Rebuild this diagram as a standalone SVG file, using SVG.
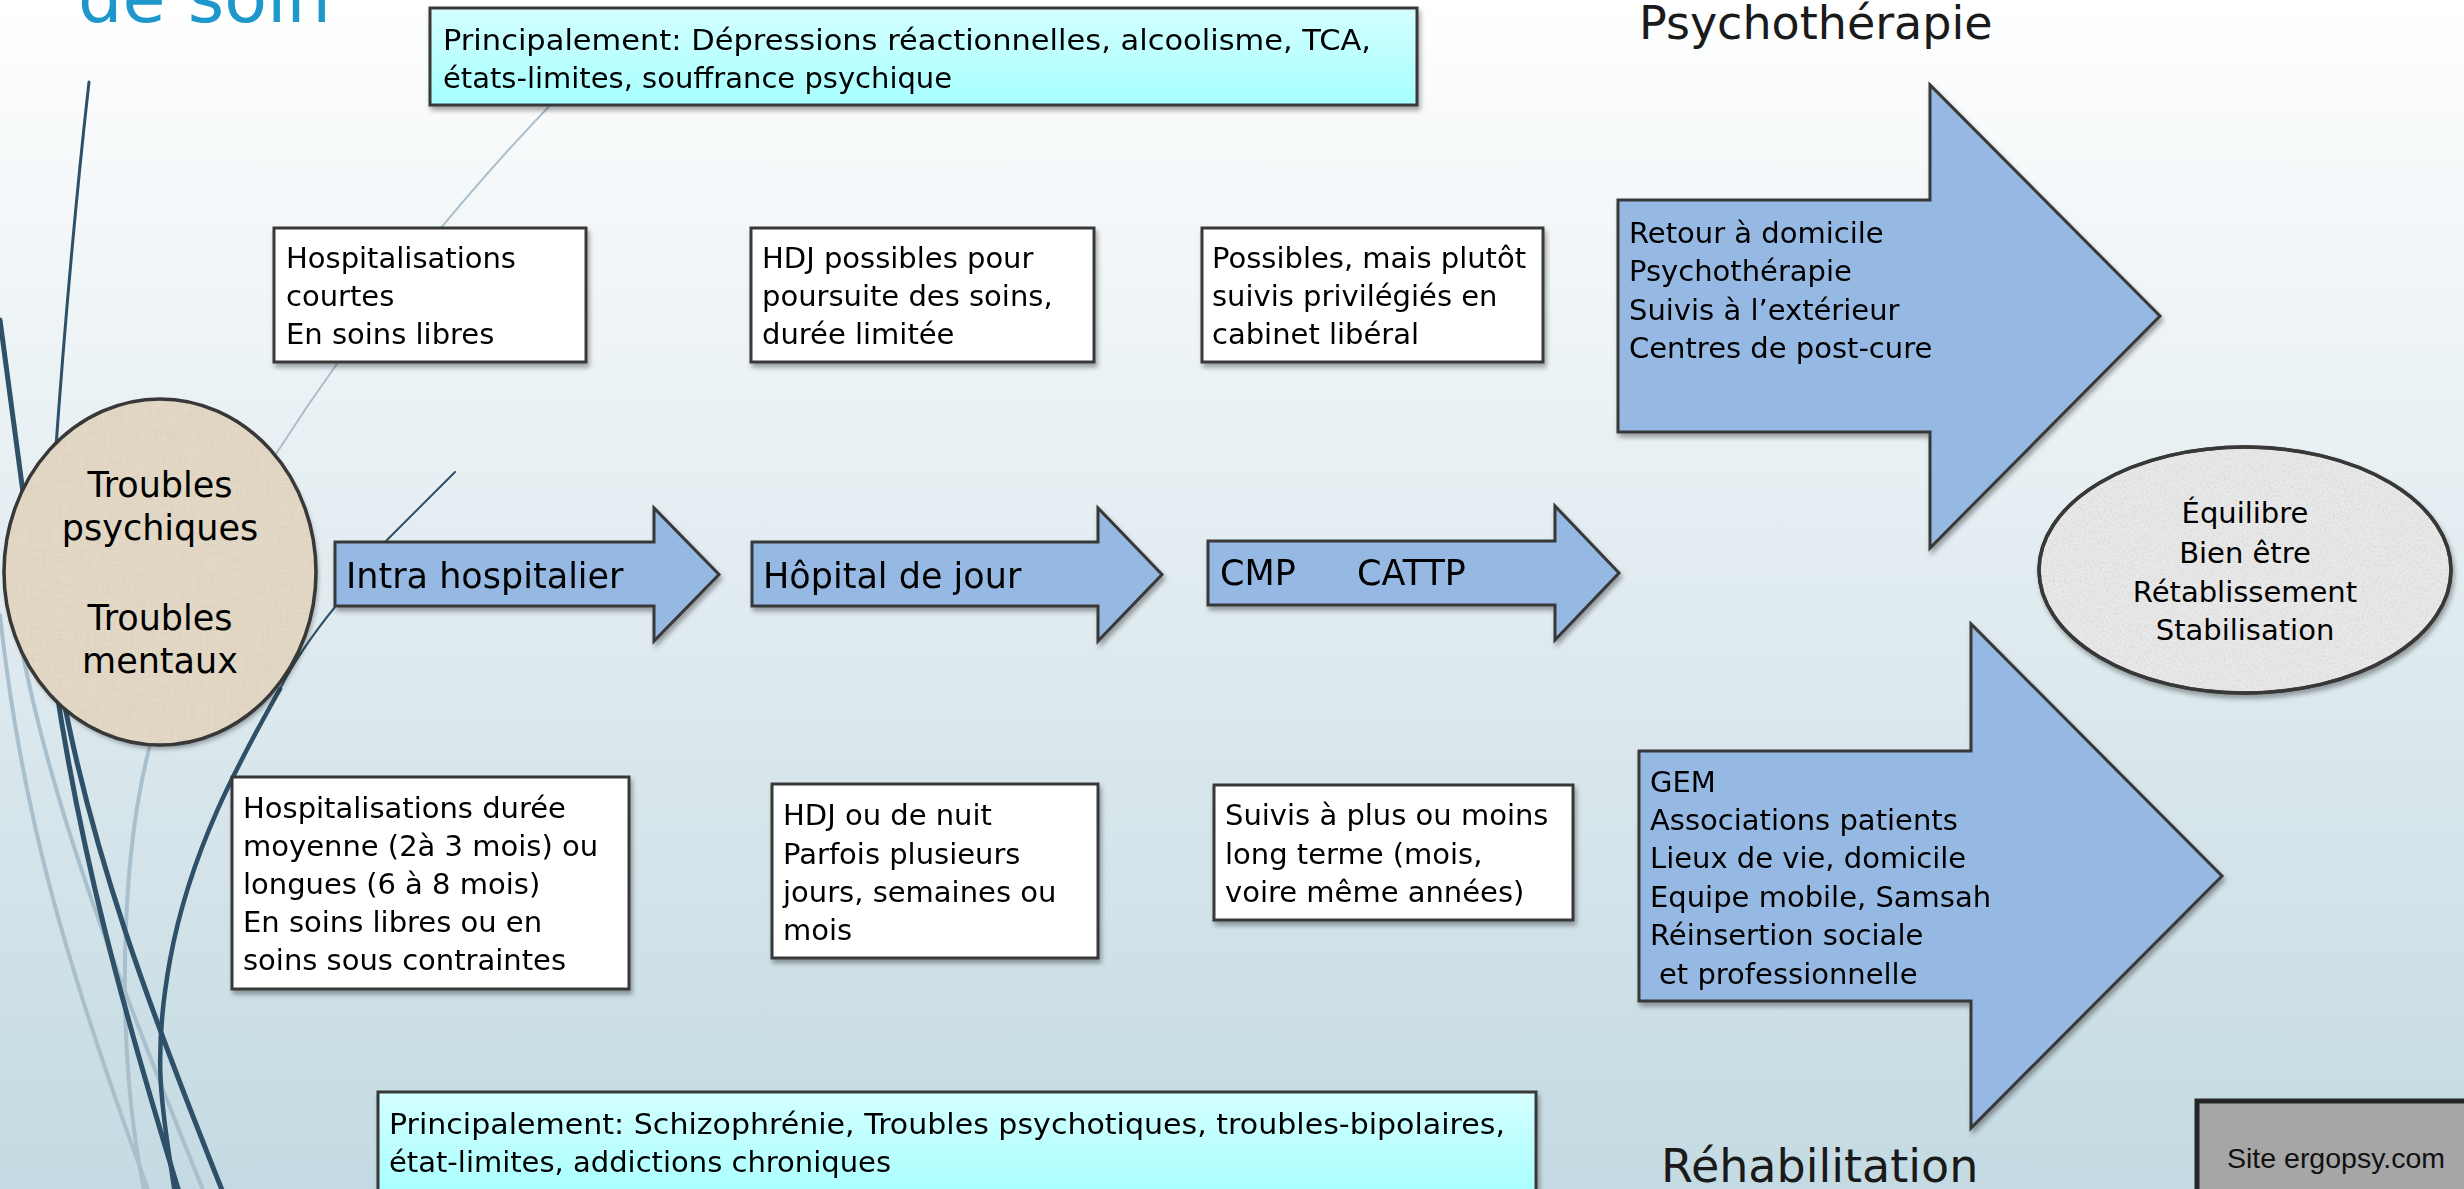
<svg xmlns="http://www.w3.org/2000/svg" width="2464" height="1189" viewBox="0 0 2464 1189">
<defs>
  <linearGradient id="bg" x1="0" y1="0" x2="0" y2="1">
    <stop offset="0" stop-color="#FFFFFF"/>
    <stop offset="0.1" stop-color="#F8FAFB"/>
    <stop offset="1" stop-color="#C4DAE2"/>
  </linearGradient>
  <linearGradient id="cyan" x1="0" y1="0" x2="0" y2="1">
    <stop offset="0" stop-color="#D4FFFF"/>
    <stop offset="1" stop-color="#A6FFFF"/>
  </linearGradient>
  <filter id="sh" x="-5%" y="-5%" width="115%" height="125%">
    <feGaussianBlur in="SourceAlpha" stdDeviation="2.5"/>
    <feOffset dx="2" dy="4" result="b"/>
    <feComponentTransfer in="b" result="c"><feFuncA type="linear" slope="0.35"/></feComponentTransfer>
    <feMerge><feMergeNode in="c"/><feMergeNode in="SourceGraphic"/></feMerge>
  </filter>
  <filter id="speck" x="0" y="0" width="100%" height="100%">
    <feTurbulence type="fractalNoise" baseFrequency="0.45" numOctaves="2" seed="7" result="n"/>
    <feColorMatrix in="n" type="matrix" values="0 0 0 0 0.55  0 0 0 0 0.55  0 0 0 0 0.55  0.8 0 0 0 -0.3" result="c"/>
    <feComposite in="c" in2="SourceGraphic" operator="in"/>
  </filter>
  <filter id="linen" x="0" y="0" width="100%" height="100%">
    <feTurbulence type="fractalNoise" baseFrequency="0.04 0.7" numOctaves="2" seed="2" result="h"/>
    <feTurbulence type="fractalNoise" baseFrequency="0.7 0.04" numOctaves="2" seed="5" result="v"/>
    <feComposite in="h" in2="v" operator="arithmetic" k2="0.5" k3="0.5" result="m"/>
    <feColorMatrix in="m" type="matrix" values="0 0 0 0 0.62  0 0 0 0 0.56  0 0 0 0 0.44  1.0 0 0 0 -0.42" result="c"/>
    <feComposite in="c" in2="SourceGraphic" operator="in"/>
  </filter>
  <style>
    .t { font-family: 'DejaVu Sans', 'Liberation Sans', sans-serif; font-size: 29px; fill: #000; }
    .al { font-size: 35px; }
    .ttl { font-size: 46px; fill: #1a1a1a; }
    .box { fill: #FFFFFF; stroke: #383838; stroke-width: 3; }
    .cy { fill: url(#cyan); stroke: #383838; stroke-width: 3; }
    .arr { fill: #95B9E2; stroke: #383838; stroke-width: 3; stroke-linejoin: miter; }
    .dk { fill: none; stroke: #2E5068; stroke-linecap: round; }
    .lt { fill: none; stroke: #A9C0CC; stroke-linecap: round; }
  </style>
</defs>

<rect x="0" y="0" width="2464" height="1189" fill="url(#bg)"/>

<text x="78" y="22" style="font-family:'DejaVu Sans','Liberation Sans',sans-serif;font-size:70px;fill:#1E98CC">de soin</text>

<g id="decor">
  <path class="lt" d="M560 95 Q400 260 272 460" stroke-width="2" stroke="#BCCED8"/>
  <path class="lt" d="M0 615 C20 800 60 950 150 1195" stroke-width="4"/>
  <path class="lt" d="M20 640 C50 800 110 960 205 1195" stroke-width="4"/>
  <path class="lt" d="M150 745 C120 860 115 1050 145 1195" stroke-width="4"/>
  <path class="dk" d="M89 82 Q70 250 55 460" stroke-width="3"/>
  <path class="dk" d="M0 320 L24 500" stroke-width="5"/>
  <path class="dk" d="M55 680 C80 850 120 1000 180 1195" stroke-width="5"/>
  <path class="dk" d="M60 680 C90 850 150 1010 224 1195" stroke-width="5"/>
  <path class="dk" d="M455 472 L387 540 L335 607 Q300 650 280 689" stroke-width="2"/>
  <path class="dk" d="M280 689 C240 760 190 850 170 960 S165 1120 175 1195" stroke-width="4.5"/>
</g>

<g id="n-troubles">
  <ellipse cx="160" cy="572" rx="156" ry="173" fill="#E2D8C5" filter="url(#sh)"/>
  <ellipse cx="160" cy="572" rx="156" ry="173" fill="#000" filter="url(#linen)"/>
  <ellipse cx="160" cy="572" rx="156" ry="173" fill="none" stroke="#383838" stroke-width="3.5"/>
  <text class="t" x="160" y="497" text-anchor="middle" style="font-size:35px">Troubles</text>
  <text class="t" x="160" y="540" text-anchor="middle" style="font-size:35px">psychiques</text>
  <text class="t" x="160" y="630" text-anchor="middle" style="font-size:35px">Troubles</text>
  <text class="t" x="160" y="673" text-anchor="middle" style="font-size:35px">mentaux</text>
</g>

<g id="n-top-cyan" filter="url(#sh)">
  <rect class="cy" x="430" y="8" width="987" height="97"/>
  <text class="t" x="443" y="50" textLength="928" lengthAdjust="spacingAndGlyphs">Principalement: Dépressions réactionnelles, alcoolisme, TCA,</text>
  <text class="t" x="443" y="88">états-limites, souffrance psychique</text>
</g>

<g id="n-hosp-courtes" filter="url(#sh)">
  <rect class="box" x="274" y="228" width="312" height="134"/>
  <text class="t" x="286" y="268">Hospitalisations</text>
  <text class="t" x="286" y="306">courtes</text>
  <text class="t" x="286" y="344">En soins libres</text>
</g>

<g id="n-hdj-possibles" filter="url(#sh)">
  <rect class="box" x="751" y="228" width="343" height="134"/>
  <text class="t" x="762" y="268">HDJ possibles pour</text>
  <text class="t" x="762" y="306">poursuite des soins,</text>
  <text class="t" x="762" y="344">durée limitée</text>
</g>

<g id="n-possibles" filter="url(#sh)">
  <rect class="box" x="1202" y="228" width="341" height="134"/>
  <text class="t" x="1212" y="268">Possibles, mais plutôt</text>
  <text class="t" x="1212" y="306">suivis privilégiés en</text>
  <text class="t" x="1212" y="344">cabinet libéral</text>
</g>

<g id="n-intra" filter="url(#sh)">
  <path class="arr" d="M335 542 H654 V508 L719 574.5 L654 641 V606 H335 Z"/>
  <text class="t al" x="346" y="588">Intra hospitalier</text>
</g>

<g id="n-hdj" filter="url(#sh)">
  <path class="arr" d="M752 542 H1098 V508 L1162 574.5 L1098 641 V606 H752 Z"/>
  <text class="t al" x="763" y="588">Hôpital de jour</text>
</g>

<g id="n-cmp" filter="url(#sh)">
  <path class="arr" d="M1208 541 H1555 V506 L1619 573 L1555 640 V605 H1208 Z"/>
  <text class="t al" y="585"><tspan x="1220">CMP</tspan><tspan x="1357">CATTP</tspan></text>
</g>

<g id="n-psycho" filter="url(#sh)">
  <path class="arr" d="M1618 200 H1930 V85 L2160 316 L1930 548 V432 H1618 Z"/>
  <text class="t" x="1629" y="243">Retour à domicile</text>
  <text class="t" x="1629" y="281">Psychothérapie</text>
  <text class="t" x="1629" y="320">Suivis à l’extérieur</text>
  <text class="t" x="1629" y="358">Centres de post-cure</text>
</g>
<text id="t-psycho" class="t ttl" x="1639" y="39">Psychothérapie</text>

<g id="n-rehab" filter="url(#sh)">
  <path class="arr" d="M1639 751 H1971 V624 L2222 876 L1971 1128 V1001 H1639 Z"/>
  <text class="t" x="1650" y="792">GEM</text>
  <text class="t" x="1650" y="830">Associations patients</text>
  <text class="t" x="1650" y="868">Lieux de vie, domicile</text>
  <text class="t" x="1650" y="907">Equipe mobile, Samsah</text>
  <text class="t" x="1650" y="945">Réinsertion sociale</text>
  <text class="t" x="1659" y="984">et professionnelle</text>
</g>
<text id="t-rehab" class="t ttl" x="1661" y="1182">Réhabilitation</text>

<g id="n-equilibre">
  <ellipse cx="2245" cy="570" rx="206" ry="123" fill="#E9E9E9" stroke="#383838" stroke-width="3.5" filter="url(#sh)"/>
  <ellipse cx="2245" cy="570" rx="205" ry="122" fill="#000" filter="url(#speck)"/>
  <ellipse cx="2245" cy="570" rx="206" ry="123" fill="none" stroke="#383838" stroke-width="3.5"/>
  <text class="t" x="2245" y="523" text-anchor="middle">Équilibre</text>
  <text class="t" x="2245" y="563" text-anchor="middle">Bien être</text>
  <text class="t" x="2245" y="602" text-anchor="middle">Rétablissement</text>
  <text class="t" x="2245" y="640" text-anchor="middle">Stabilisation</text>
</g>

<g id="n-hosp-longues" filter="url(#sh)">
  <rect class="box" x="232" y="777" width="397" height="212"/>
  <text class="t" x="243" y="818">Hospitalisations durée</text>
  <text class="t" x="243" y="856">moyenne (2à 3 mois) ou</text>
  <text class="t" x="243" y="894">longues (6 à 8 mois)</text>
  <text class="t" x="243" y="932">En soins libres ou en</text>
  <text class="t" x="243" y="970">soins sous contraintes</text>
</g>

<g id="n-hdj-nuit" filter="url(#sh)">
  <rect class="box" x="772" y="784" width="326" height="174"/>
  <text class="t" x="783" y="825">HDJ ou de nuit</text>
  <text class="t" x="783" y="864">Parfois plusieurs</text>
  <text class="t" x="783" y="902">jours, semaines ou</text>
  <text class="t" x="783" y="940">mois</text>
</g>

<g id="n-suivis" filter="url(#sh)">
  <rect class="box" x="1214" y="785" width="359" height="135"/>
  <text class="t" x="1225" y="825">Suivis à plus ou moins</text>
  <text class="t" x="1225" y="864">long terme (mois,</text>
  <text class="t" x="1225" y="902">voire même années)</text>
</g>

<g id="n-bottom-cyan" filter="url(#sh)">
  <rect class="cy" x="378" y="1092" width="1158" height="110"/>
  <text class="t" x="389" y="1134" textLength="1116" lengthAdjust="spacingAndGlyphs">Principalement: Schizophrénie, Troubles psychotiques, troubles-bipolaires,</text>
  <text class="t" x="389" y="1172">état-limites, addictions chroniques</text>
</g>

<g id="n-site">
  <rect x="2197" y="1101" width="300" height="120" fill="#A6A6A6" stroke="#262626" stroke-width="5"/>
  <text x="2227" y="1168" style="font-family:'Liberation Sans',Arial,sans-serif;font-size:28.5px;fill:#111">Site ergopsy.com</text>
</g>
</svg>
